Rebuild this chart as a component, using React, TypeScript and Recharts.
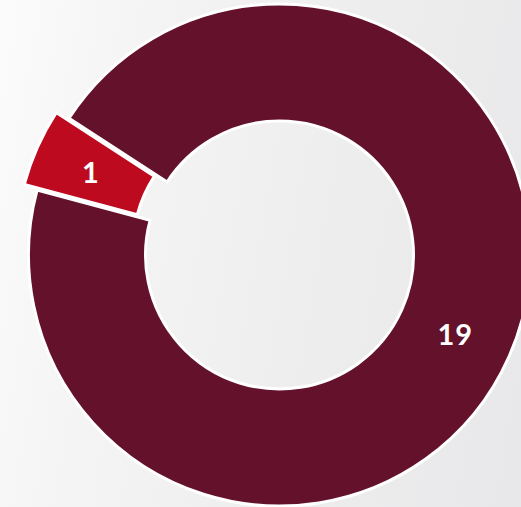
import { PieChart, Pie, Cell } from 'recharts';

const NAMES = ['Minor', 'Major'];
const VALUES = [1, 19];
const COLORS = ['#be0a1e', '#64112c'];

const data = NAMES.map((name, i) => ({ name, value: VALUES[i] }));

const W = 521;
const H = 507;
const CX = 279.5;
const CY = 255;
const INNER = 134;
const OUTER = 251;
const START = 147;
const EXPLODE = 14;

const RADIAN = Math.PI / 180;
const total = VALUES.reduce((a, b) => a + b, 0);
const explodeMid = START + (VALUES[0] / total) * 180;
const ex = EXPLODE * Math.cos(explodeMid * RADIAN);
const ey = -EXPLODE * Math.sin(explodeMid * RADIAN);

function makeLabel(show: number) {
  return (props: any) => {
    const { cx, cy, midAngle, innerRadius, outerRadius, value, index } = props;
    if (index !== show) return null;
    const r = (innerRadius + outerRadius) / 2;
    const x = cx + r * Math.cos(-midAngle * RADIAN);
    const y = cy + r * Math.sin(-midAngle * RADIAN);
    return (
      <text
        x={x}
        y={y}
        fill="#ffffff"
        textAnchor="middle"
        dominantBaseline="central"
        fontFamily="Lato, 'Open Sans', sans-serif"
        fontWeight={700}
        fontSize={29}
        letterSpacing={1}
      >
        {value}
      </text>
    );
  };
}

export default function App() {
  return (
    <div
      style={{
        position: 'fixed',
        left: 0,
        top: 0,
        width: W,
        height: H,
        background: 'linear-gradient(100deg, #fbfbfb 0%, #f3f3f4 30%, #ececed 70%, #e8e8ea 100%)',
      }}
    >
      <PieChart width={W} height={H} margin={{ top: 0, right: 0, bottom: 0, left: 0 }}>
        <Pie
          data={data}
          dataKey="value"
          nameKey="name"
          cx={CX}
          cy={CY}
          innerRadius={INNER}
          outerRadius={OUTER}
          startAngle={START}
          endAngle={START + 360}
          stroke="#ffffff"
          strokeWidth={3}
          labelLine={false}
          label={makeLabel(1)}
          isAnimationActive={false}
        >
          {data.map((_, i) => (
            <Cell key={i} fill={i === 1 ? COLORS[1] : 'none'} stroke={i === 1 ? '#ffffff' : 'none'} />
          ))}
        </Pie>
        <Pie
          data={data}
          dataKey="value"
          nameKey="name"
          cx={CX + ex}
          cy={CY + ey}
          innerRadius={INNER}
          outerRadius={OUTER}
          startAngle={START}
          endAngle={START + 360}
          stroke="#ffffff"
          strokeWidth={3}
          labelLine={false}
          label={makeLabel(0)}
          isAnimationActive={false}
        >
          {data.map((_, i) => (
            <Cell key={i} fill={i === 0 ? COLORS[0] : 'none'} stroke={i === 0 ? '#ffffff' : 'none'} />
          ))}
        </Pie>
      </PieChart>
    </div>
  );
}
